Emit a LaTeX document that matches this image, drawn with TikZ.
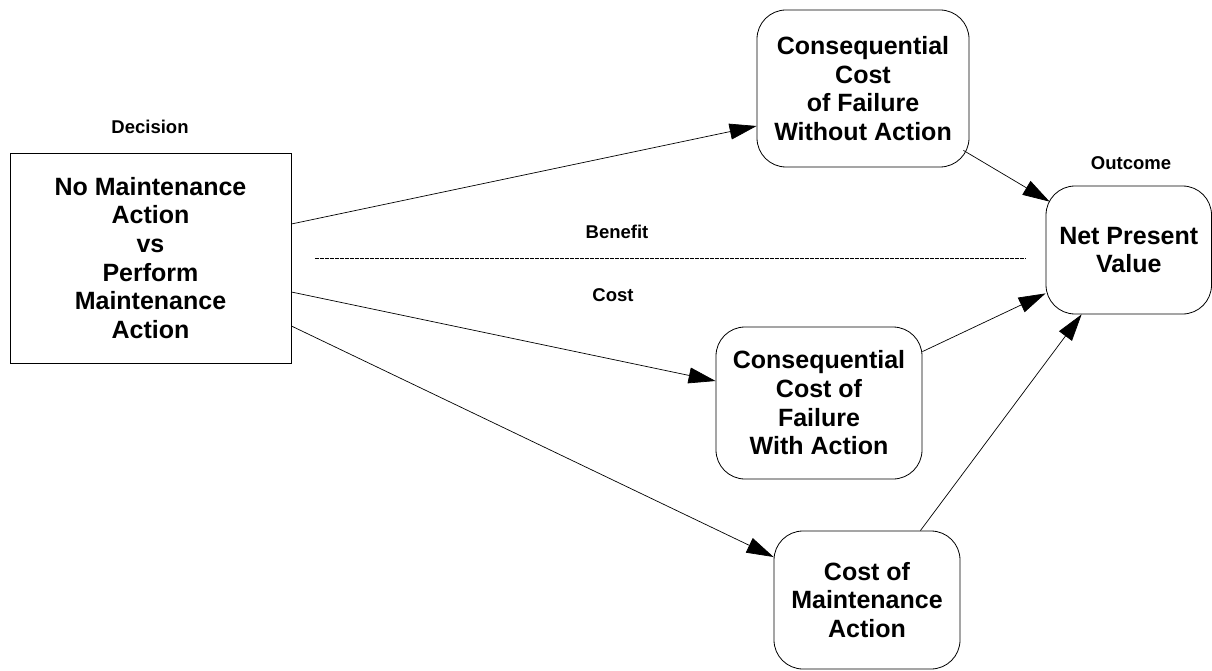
\documentclass[tikz,border=0pt]{standalone}
\usepackage{fontspec}
\setmainfont{Liberation Sans}
\usetikzlibrary{arrows.meta}

\tikzset{
  box/.style={draw, line width=0.8pt, align=center, inner sep=0pt,
    font=\bfseries\fontsize{25}{28.7}\selectfont},
  roundbox/.style={box, rounded corners=29pt},
  tag/.style={font=\bfseries\fontsize{18.5}{22}\selectfont},
  conn/.style={line width=0.7pt, -{Triangle[length=27pt,width=16pt]}}
}

\begin{document}
\begin{tikzpicture}[x=1pt, y=-1pt]
    \useasboundingbox (0,0) rectangle (1212,671);

    % decision side
    \node[tag] (declabel) at (150,127) {Decision};
    \node[box, minimum width=281pt, minimum height=210pt] (dec) at (150.5,258)
        {No Maintenance\\Action\\vs\\Perform\\Maintenance\\Action};

    % consequences
    \node[roundbox, minimum width=212pt, minimum height=157pt] (nofix) at (863,88.5)
        {Consequential\\Cost\\of Failure\\Without Action};
    \node[roundbox, minimum width=206pt, minimum height=152pt] (withfix) at (819,403)
        {Consequential\\Cost of\\Failure\\With Action};
    \node[roundbox, minimum width=186pt, minimum height=138pt] (maint) at (867,600)
        {Cost of\\Maintenance\\Action};

    % outcome
    \node[tag] (outlabel) at (1131,163) {Outcome};
    \node[roundbox, minimum width=165.5pt, minimum height=128pt] (npv) at (1128.75,250)
        {Net Present\\Value};

    % benefit / cost split
    \coordinate (splitL) at (315,258);
    \coordinate (splitR) at (1026,258);
    \draw[line width=0.6pt, dash pattern=on 3.5pt off 1.5pt] (splitL) -- (splitR);
    \node[tag] (benefit) at (617,232) {Benefit};
    \node[tag] (cost) at (613,295) {Cost};

    % connectors
    \draw[conn] ([yshift=34pt]dec.east) -- ([yshift=-37.5pt]nofix.west);
    \draw[conn] ([yshift=-34pt]dec.east) -- ([yshift=22pt]withfix.west);
    \draw[conn] ([yshift=-68pt]dec.east) -- ([yshift=43pt]maint.west);

    \draw[conn] ([xshift=-6pt,yshift=17pt]nofix.south east) -- ([xshift=4pt,yshift=-16pt]npv.north west);
    \draw[conn] ([yshift=-25pt]withfix.north east) -- ([yshift=21pt]npv.south west);
    \draw[conn] ([xshift=-40pt]maint.north east) -- ([xshift=36pt]npv.south west);
\end{tikzpicture}
\end{document}
